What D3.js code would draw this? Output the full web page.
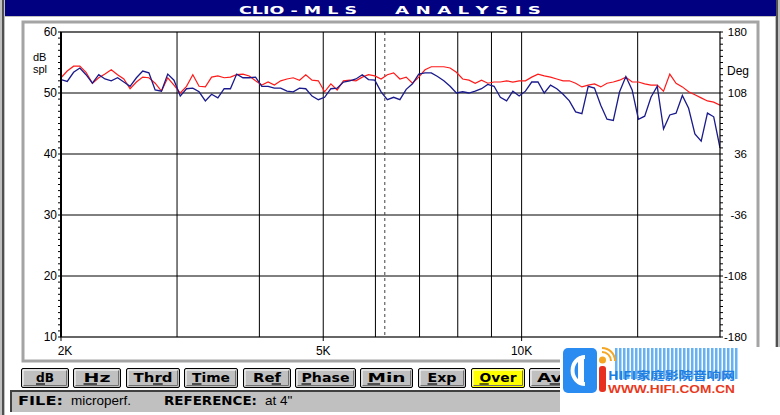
<!DOCTYPE html>
<html><head><meta charset="utf-8">
<script src="https://cdn.jsdelivr.net/npm/d3@7"></script>
<style>body{margin:0;background:#fff;} svg{display:block;}</style>
</head><body><svg id="c" width="780" height="415"></svg>
<script>
// ---------- data ----------
const freqs = [2000,2044,2090,2136,2183,2232,2282,2332,2384,2437,2491,2546,2603,2661,2719,2779,2841,2904,2968,3034,3101,3170,3240,3312,3385,3460,3537,3615,3695,3777,3861,3947,4034,4124,4215,4309,4405,4502,4602,4704,4808,4915,5024,5135,5249,5365,5484,5606,5730,5857,5987,6120,6255,6394,6536,6681,6829,6981,7135,7294,7455,7620,7789,7962,8139,8319,8504,8692,8885,9082,9283,9489,9699,9914,10134,10359,10589,10823,11063,11308,11559,11815,12077,12345,12619,12899,13185,13477,13776,14082,14394,14713,15039,15373,15714,16062,16418,16782,17154,17535,17923,18321,18727,19142,19566,20000];
// red (overlay / reference) curve, dB SPL
const refDb = [52.5,53.6,54.4,54.4,53.4,51.6,52.5,53.1,53.8,53.0,52.3,50.7,51.8,52.6,52.5,51.6,50.3,52.5,51.3,50.0,51.1,53.0,51.1,51.0,52.6,52.8,52.5,52.6,53.0,53.1,52.8,52.0,51.3,51.8,51.3,52.0,52.3,52.5,52.1,53.0,52.1,52.0,50.2,51.5,50.5,52.0,52.1,52.0,52.6,53.0,52.8,52.3,53.0,53.3,52.3,52.6,51.6,52.6,53.8,54.3,54.3,54.3,54.1,53.4,52.3,52.1,51.6,52.1,51.6,51.8,51.8,52.0,51.8,52.0,52.0,52.6,53.1,52.8,52.6,52.3,52.0,52.0,51.6,51.0,51.3,51.5,51.0,51.6,51.8,52.1,52.6,51.8,51.8,51.5,51.3,51.3,50.3,53.1,51.6,51.0,50.2,49.7,49.2,48.7,48.5,48.0];
// blue (current measurement) curve, dB SPL
const measDb = [52.2,51.9,53.4,54.1,53.0,51.6,53.0,52.3,52.0,52.5,51.8,51.1,52.5,53.6,53.3,50.5,50.3,53.1,52.1,49.5,50.7,50.8,50.2,48.7,49.8,49.2,50.7,50.7,53.1,52.5,52.5,52.6,51.1,51.1,50.8,50.8,50.3,50.2,50.8,50.7,49.5,48.9,49.3,50.7,50.8,51.8,52.0,52.3,53.0,52.2,52.1,50.2,48.9,49.3,48.9,50.6,51.5,53.1,53.3,53.3,52.7,52.0,51.1,50.0,50.2,50.0,50.3,50.7,51.4,51.1,49.3,48.7,50.3,49.5,50.3,51.8,51.8,50.0,51.3,50.7,49.8,48.7,46.9,46.6,51.1,50.8,48.0,45.7,45.5,50.2,52.7,50.5,45.7,46.2,49.3,51.1,44.1,46.4,46.7,49.6,47.5,43.3,42.1,46.7,46.1,41.0];

const dbTicks = [10,20,30,40,50,60];
const degTicks = [-180,-108,-36,36,108,180];
const freqGrid = [3000,4000,5000,6000,7000,8000,9000,10000,15000];
const freqTickValues = [2000,5000,10000];
const freqTickLabels = ["2K","5K","10K"];
const cursorFreq = 6200;
const buttonLabels = ["dB","Hz","Thrd","Time","Ref","Phase","Min","Exp","Over","Ave"];
const buttonHotKey = [0,0,2,0,2,0,0,0,0,1];
const activeButton = "Over";
const titleLeft = "CLIO - M L S";
const titleRight = "A N A L Y S I S";
const fileName = "microperf.";
const referenceName = "at 4\"";

// ---------- layout ----------
const svg = d3.select("#c");
const L = 61, R = 720, T = 32, B = 337;
const x = d3.scaleLog().domain([2000,20000]).range([L,R]);
const y = d3.scaleLinear().domain([10,60]).range([B,T]);
const yDeg = d3.scaleLinear().domain([-180,180]).range([B,T]);
const sans = "'Liberation Sans', Arial, sans-serif";
const bold = "'DejaVu Sans', 'Liberation Sans', sans-serif";

// window chrome
svg.append("rect").attr("x",0).attr("y",0).attr("width",780).attr("height",415).attr("fill","#fff");
svg.append("rect").attr("x",0).attr("y",0).attr("width",5).attr("height",415).attr("fill","#c0c0c0");
svg.append("rect").attr("x",2).attr("y",0).attr("width",2).attr("height",415).attr("fill","#505050");
svg.append("rect").attr("x",775).attr("y",0).attr("width",5).attr("height",415).attr("fill","#c0c0c0");
svg.append("rect").attr("x",776).attr("y",0).attr("width",2).attr("height",415).attr("fill","#505050");
svg.append("rect").attr("x",5).attr("y",0).attr("width",771).attr("height",16).attr("fill","#000080");
svg.append("rect").attr("x",5).attr("y",16).attr("width",771).attr("height",1).attr("fill","#c0c0c0");
svg.append("text").attr("x",239).attr("y",13.5).text(titleLeft)
  .attr("fill","#fff").attr("font-family",bold).attr("font-weight","bold").attr("font-size",11)
  .attr("textLength",118).attr("lengthAdjust","spacingAndGlyphs");
svg.append("text").attr("x",395).attr("y",13.5).text(titleRight)
  .attr("fill","#fff").attr("font-family",bold).attr("font-weight","bold").attr("font-size",11)
  .attr("textLength",146).attr("lengthAdjust","spacingAndGlyphs");

// inner panel
svg.append("rect").attr("x",23).attr("y",22).attr("width",735).attr("height",339)
  .attr("fill","#fff").attr("stroke","#a4a4a4").attr("stroke-width",3);

// grid
const g = svg.append("g");
g.selectAll("line.h").data(dbTicks.slice(1,-1)).join("line")
  .attr("x1",L).attr("x2",R).attr("y1",d=>y(d)).attr("y2",d=>y(d))
  .attr("stroke","#000").attr("stroke-width",1);
g.selectAll("line.v").data(freqGrid).join("line")
  .attr("x1",d=>x(d)).attr("x2",d=>x(d)).attr("y1",T).attr("y2",B)
  .attr("stroke","#000").attr("stroke-width",1);
g.append("line").attr("x1",x(cursorFreq)).attr("x2",x(cursorFreq)).attr("y1",T).attr("y2",B)
  .attr("stroke","#404040").attr("stroke-width",1).attr("stroke-dasharray","3,3");

// minor ticks on left / right axes (1 dB)
const minor = d3.range(10,61,1);
g.selectAll("line.ml").data(minor).join("line")
  .attr("x1",L-3).attr("x2",L).attr("y1",d=>y(d)).attr("y2",d=>y(d)).attr("stroke","#000");
g.selectAll("line.mr").data(minor).join("line")
  .attr("x1",R).attr("x2",R+3).attr("y1",d=>y(d)).attr("y2",d=>y(d)).attr("stroke","#000");

// curves
svg.append("clipPath").attr("id","pc").append("rect").attr("x",L).attr("y",T).attr("width",R-L).attr("height",B-T);
const line = d3.line().x(d=>x(d[0])).y(d=>y(d[1]));
const cg = svg.append("g").attr("clip-path","url(#pc)");
cg.append("path").attr("d",line(freqs.map((f,i)=>[f,refDb[i]])))
  .attr("fill","none").attr("stroke","#ff1a1a").attr("stroke-width",1.2);
cg.append("path").attr("d",line(freqs.map((f,i)=>[f,measDb[i]])))
  .attr("fill","none").attr("stroke","#1a1a8c").attr("stroke-width",1.3);

// frame
svg.append("rect").attr("x",L).attr("y",T).attr("width",R-L).attr("height",B-T)
  .attr("fill","none").attr("stroke","#000").attr("stroke-width",1.2);
svg.append("line").attr("x1",L).attr("x2",L).attr("y1",T).attr("y2",B).attr("stroke","#000").attr("stroke-width",2);

// left axis labels
svg.selectAll("text.yl").data(dbTicks).join("text")
  .attr("x",57).attr("y",d=>y(d)+4).attr("text-anchor","end").text(d=>d)
  .attr("font-family",sans).attr("font-size",12).attr("fill","#000");
svg.append("text").attr("x",33).attr("y",61).text("dB").attr("font-family",sans).attr("font-size",11);
svg.append("text").attr("x",33).attr("y",73).text("spl").attr("font-family",sans).attr("font-size",11);
// right axis labels
svg.selectAll("text.yr").data(degTicks).join("text")
  .attr("x",747).attr("y",d=>yDeg(d)+4).attr("text-anchor","end").text(d=>d)
  .attr("font-family",sans).attr("font-size",11.5).attr("fill","#000");
svg.append("text").attr("x",727).attr("y",75).text("Deg").attr("font-family",sans).attr("font-size",12);
// bottom ticks + labels
svg.selectAll("line.bt").data(freqTickValues).join("line")
  .attr("x1",d=>x(d)).attr("x2",d=>x(d)).attr("y1",B).attr("y2",B+4).attr("stroke","#000");
svg.selectAll("text.bl").data(freqTickValues).join("text")
  .attr("x",(d,i)=>x(d)+(i===0?4:0)).attr("y",355).attr("text-anchor","middle")
  .text((d,i)=>freqTickLabels[i]).attr("font-family",sans).attr("font-size",12);

// buttons
const bx = [21,73,126,184,243,295,360,418,471,529];
const bw = [48,48,54,54,48,61,53,48,54,54];
const tw = [18,27,39,38,28,48,38,29,37,38];
const bg = svg.append("g");
buttonLabels.forEach((lab,i)=>{
  const gx = bg.append("g").attr("transform",`translate(${bx[i]},368)`);
  gx.append("rect").attr("x",0.5).attr("y",0.5).attr("width",bw[i]-1).attr("height",19)
    .attr("rx",1.5).attr("fill",lab===activeButton?"#ffff00":"#c0c0c0").attr("stroke","#000");
  gx.append("path").attr("d",`M2,18V2H${bw[i]-2}`).attr("fill","none").attr("stroke","#fff");
  gx.append("path").attr("d",`M2.5,17.5H${bw[i]-2.5}V2.5`).attr("fill","none").attr("stroke","#707070");
  const tx = (bw[i]-tw[i])/2;
  gx.append("text").attr("x",tx).attr("y",14).text(lab)
    .attr("font-family",bold).attr("font-weight","bold").attr("font-size",11.5)
    .attr("textLength",tw[i]).attr("lengthAdjust","spacingAndGlyphs").attr("fill","#000");
  const cw = tw[i]/lab.length;
  gx.append("line").attr("x1",tx+cw*buttonHotKey[i]).attr("x2",tx+cw*(buttonHotKey[i]+1))
    .attr("y1",16).attr("y2",16).attr("stroke","#000").attr("stroke-width",1.2);
});

// file bar
svg.append("rect").attr("x",10).attr("y",390).attr("width",766).attr("height",22).attr("fill","#c0c0c0");
svg.append("path").attr("d","M11,412V391H776").attr("fill","none").attr("stroke","#404040").attr("stroke-width",2);
svg.append("text").attr("x",18).attr("y",405).text("FILE:").attr("font-family",bold).attr("font-weight","bold")
  .attr("font-size",12).attr("textLength",45).attr("lengthAdjust","spacingAndGlyphs");
svg.append("text").attr("x",71).attr("y",405).text(fileName).attr("font-family",sans).attr("font-size",13.5);
svg.append("text").attr("x",164).attr("y",405).text("REFERENCE:").attr("font-family",bold).attr("font-weight","bold")
  .attr("font-size",12).attr("textLength",93).attr("lengthAdjust","spacingAndGlyphs");
svg.append("text").attr("x",265).attr("y",405).text(referenceName).attr("font-family",sans).attr("font-size",13.5);

// watermark
const wm = svg.append("g");
wm.append("rect").attr("x",560).attr("y",347).attr("width",220).attr("height",68).attr("fill","#fff");
const stripes = d3.range(615,736,4);
wm.selectAll("rect.st").data(stripes).join("rect")
  .attr("x",d=>d).attr("y",348).attr("width",2.5).attr("height",31).attr("fill","#4aa3f5").attr("opacity",0.85);
wm.append("rect").attr("x",563).attr("y",348).attr("width",34).attr("height",45).attr("rx",5).attr("fill","#2a8cf0");
wm.append("path").attr("d","M585,357 A12,13 0 1 0 585,384").attr("fill","none").attr("stroke","#fff").attr("stroke-width",4);
wm.append("rect").attr("x",578).attr("y",356).attr("width",6).attr("height",28).attr("rx",3).attr("fill","#fff");
wm.append("rect").attr("x",599).attr("y",366).attr("width",7).attr("height",26).attr("rx",3).attr("fill","#e83020");
wm.append("circle").attr("cx",602.5).attr("cy",360).attr("r",3.5).attr("fill","#f5a623");
wm.append("path").attr("d","M602,352 A9,9 0 0 1 611,361").attr("fill","none").attr("stroke","#f5a623").attr("stroke-width",2);
wm.append("path").attr("d","M602,348 A13,13 0 0 1 615,361").attr("fill","none").attr("stroke","#f5a623").attr("stroke-width",2);
wm.append("text").attr("x",608).attr("y",380).text("HIFI家庭影院音响网")
  .attr("font-family","'Noto Sans CJK SC', sans-serif").attr("font-weight","bold").attr("font-size",11.5)
  .attr("textLength",127).attr("lengthAdjust","spacingAndGlyphs").attr("fill","#1f7fe0");
wm.append("text").attr("x",608).attr("y",393).text("WWW.HIFI.COM.CN")
  .attr("font-family",sans).attr("font-weight","bold").attr("font-size",10.5)
  .attr("textLength",127).attr("lengthAdjust","spacingAndGlyphs").attr("fill","#e83a1e");
</script></body></html>
